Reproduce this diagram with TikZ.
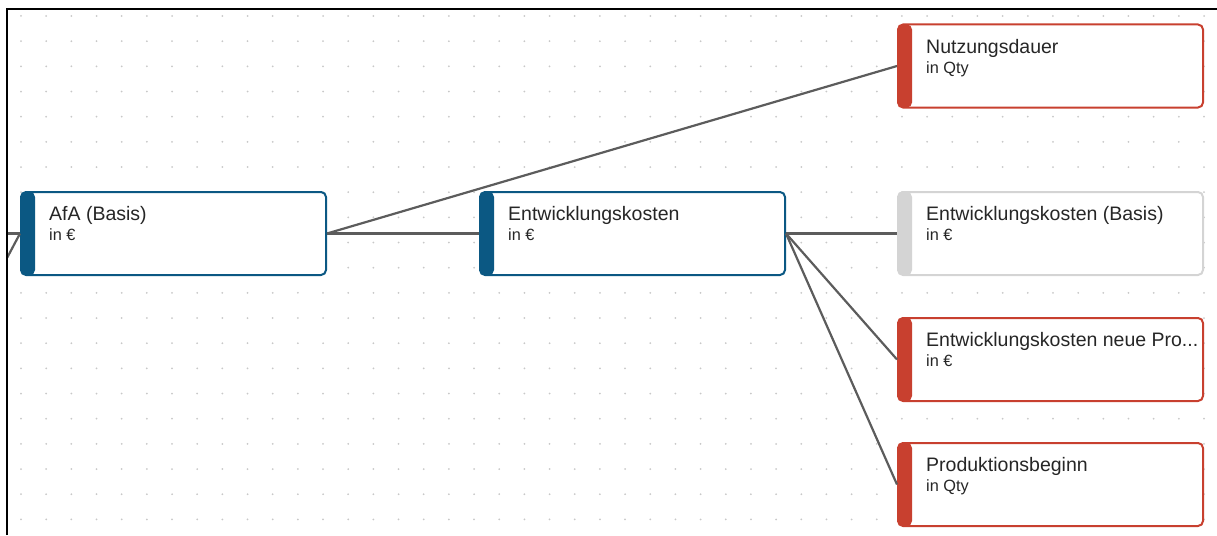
\documentclass[tikz,border=0pt]{standalone}
\usepackage{fontspec}
\setmainfont{Liberation Sans}
\definecolor{cardblue}{HTML}{0B5883}
\definecolor{cardred}{HTML}{C8402F}
\definecolor{cardgray}{HTML}{D4D4D4}
\definecolor{linkgray}{HTML}{5C5C5C}
\definecolor{dotgray}{HTML}{C8C8C8}
\tikzset{
  card/.style={draw=#1, line width=2pt, fill=white, rounded corners=5pt,
    minimum width=305pt, minimum height=83pt, inner sep=0pt,
    path picture={\fill[#1] (path picture bounding box.north west) rectangle ([xshift=14pt]path picture bounding box.south west);}},
  title/.style={anchor=base west, inner sep=0pt, text=black!85, font=\fontsize{19.5}{20}\selectfont},
  unit/.style={anchor=base west, inner sep=0pt, text=black!85, font=\fontsize{16.3}{17}\selectfont},
  link/.style={draw=linkgray, line width=2.2pt},
}
\begin{document}
\begin{tikzpicture}[x=1pt,y=-1pt]
\useasboundingbox (0,0) rectangle (1217,535);
\foreach \i in {0,...,47}
  \foreach \j in {0,...,20}
    \fill[dotgray] (21+25.17*\i,16+25.17*\j) circle (1pt);
\node[card=cardblue] (afa) at (173.5,233.5) {};
\node[card=cardblue] (ek) at (632.5,233.5) {};
\node[card=cardred] (nd) at (1050.5,66) {};
\node[card=cardgray] (ekb) at (1050.5,233.5) {};
\node[card=cardred] (eknp) at (1050.5,359.5) {};
\node[card=cardred] (pb) at (1050.5,484.5) {};
\node[title] (afa-t) at ([shift={(29,29.7)}]afa.north west) {AfA (Basis)};
\node[unit] (afa-u) at ([shift={(29,49.7)}]afa.north west) {in €};
\node[title] (ek-t) at ([shift={(29,29.7)}]ek.north west) {Entwicklungskosten};
\node[unit] (ek-u) at ([shift={(29,49.7)}]ek.north west) {in €};
\node[title] (nd-t) at ([shift={(29,29.7)}]nd.north west) {Nutzungsdauer};
\node[unit] (nd-u) at ([shift={(29,49.7)}]nd.north west) {in Qty};
\node[title] (ekb-t) at ([shift={(29,29.7)}]ekb.north west) {Entwicklungskosten (Basis)};
\node[unit] (ekb-u) at ([shift={(29,49.7)}]ekb.north west) {in €};
\node[title] (eknp-t) at ([shift={(29,29.7)}]eknp.north west) {Entwicklungskosten neue Pro...};
\node[unit] (eknp-u) at ([shift={(29,49.7)}]eknp.north west) {in €};
\node[title] (pb-t) at ([shift={(29,29.7)}]pb.north west) {Produktionsbeginn};
\node[unit] (pb-u) at ([shift={(29,49.7)}]pb.north west) {in Qty};
\coordinate (in1) at (7,233.5);
\coordinate (in2) at (7,258);
\draw [link] (in1) -- (afa.west);
\draw [link] (in2) -- (afa.west);
\draw [link] (afa.east) -- (ek.west);
\draw [link] (afa.east) -- (nd.west);
\draw [link] (ek.east) -- (ekb.west);
\draw [link] (ek.east) -- (eknp.west);
\draw [link] (ek.east) -- (pb.west);
\draw [line width=2pt] (7,535) -- (7,9) -- (1217,9);
\end{tikzpicture}
\end{document}
